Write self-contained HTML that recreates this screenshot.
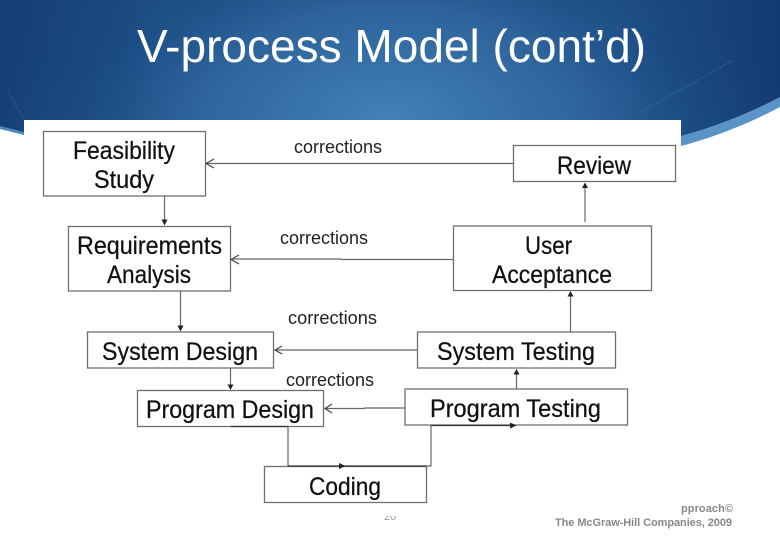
<!DOCTYPE html>
<html lang="en">
<head>
<meta charset="utf-8">
<title>V-process Model (cont'd)</title>
<style>
html,body{margin:0;padding:0;background:#fff}
svg{display:block}
.b{fill:#fff;stroke:#6f6f6f;stroke-width:1.3}
.l{stroke:#666;stroke-width:1.2;fill:none}
.d{stroke:#333;stroke-width:1.2;fill:none}
.o{stroke:#444;stroke-width:1.2;fill:none}
.t{font-family:"Liberation Sans",sans-serif;font-size:25px;fill:#111;stroke:#111;stroke-width:.25}
.c{font-family:"Liberation Sans",sans-serif;font-size:18px;fill:#222}
.f{font-family:"Liberation Sans",sans-serif;font-size:11px;font-weight:bold;fill:#888}
</style>
</head>
<body>
<svg width="780" height="540" viewBox="0 0 780 540" xmlns="http://www.w3.org/2000/svg">
<defs>
<linearGradient id="v" x1="0" y1="0" x2="0" y2="1">
<stop offset="0" stop-color="#1d4c84"/>
<stop offset="0.45" stop-color="#1e4f88"/>
<stop offset="1" stop-color="#24598f"/>
</linearGradient>
<radialGradient id="g" gradientUnits="userSpaceOnUse" cx="390" cy="115" r="340" gradientTransform="translate(0 50) scale(1 .6)">
<stop offset="0" stop-color="#4584ba" stop-opacity=".95"/>
<stop offset="0.55" stop-color="#3570a6" stop-opacity=".65"/>
<stop offset="1" stop-color="#1a4a82" stop-opacity="0"/>
</radialGradient>
<linearGradient id="e" x1="0" y1="0" x2="1" y2="0">
<stop offset="0" stop-color="#123a72" stop-opacity=".8"/>
<stop offset="0.2" stop-color="#123a72" stop-opacity="0"/>
<stop offset="0.8" stop-color="#123a72" stop-opacity="0"/>
<stop offset="1" stop-color="#103670" stop-opacity=".85"/>
</linearGradient>
<clipPath id="pg"><rect x="380" y="516" width="20" height="4"/></clipPath>
</defs>

<path d="M0 0H780V97C750 113 715 127 681 136V120H24V134L0 128Z" fill="url(#v)"/>
<path d="M0 0H780V97C750 113 715 127 681 136V120H24V134L0 128Z" fill="url(#g)"/>
<path d="M0 0H780V97C750 113 715 127 681 136V120H24V134L0 128Z" fill="url(#e)"/>
<path d="M681 136C715 127 750 113 780 97V107C750 123 715 137 681 146Z" fill="#5a93c6"/>
<path d="M0 126L24 132V135L0 129Z" fill="#4f8abf"/>
<path d="M8 90Q16 108 24 118" fill="none" stroke="#3c70a6" stroke-width=".7" opacity=".6"/>
<path d="M640 112Q690 85 733 60" fill="none" stroke="#3f78ae" stroke-width=".7" opacity=".6"/>

<rect x="24" y="120" width="657" height="400" fill="#fff"/>

<text x="137" y="62" font-family="'Liberation Sans',sans-serif" font-size="46" fill="#fff" textLength="509" lengthAdjust="spacingAndGlyphs">V-process Model (cont’d)</text>

<rect class="b" x="43.5" y="131.5" width="162" height="64.5"/>
<rect class="b" x="513.5" y="145.5" width="162" height="36"/>
<rect class="b" x="68.5" y="226.5" width="162" height="64.5"/>
<rect class="b" x="453.5" y="226" width="198" height="64.5"/>
<rect class="b" x="87.5" y="332" width="186" height="36"/>
<rect class="b" x="417.5" y="332" width="198" height="36"/>
<rect class="b" x="137.5" y="390.5" width="186" height="36"/>
<rect class="b" x="405" y="389" width="222.5" height="36"/>
<rect class="b" x="264.5" y="466.5" width="162" height="36"/>

<path class="l" d="M164.5 196V221"/><path d="M161.500 219.500H167.500L164.500 225.500Z" fill="#222"/>
<path class="l" d="M180.5 291V327"/><path d="M177.500 325.500H183.500L180.500 331.500Z" fill="#222"/>
<path class="l" d="M230.5 368V386"/><path d="M227.500 384.500H233.500L230.500 390Z" fill="#222"/>

<path class="l" d="M513 163.5H207"/><path class="o" d="M214 159L206 163.5L214 168"/>
<path class="l" d="M453 259.5H342L340 259H232"/><path class="o" d="M239 255L231 259.5L239 264"/>
<path class="l" d="M417 350H275"/><path class="o" d="M282 346L275 350L282 354"/>
<path class="l" d="M405 408H365L364 408.5H325"/><path class="o" d="M332 404L325 408.5L332 413"/>

<path class="l" d="M585 222V186"/><path d="M582 188H588L585 182.500Z" fill="#222"/>
<path class="l" d="M570.500 332V295"/><path d="M567.500 296.500H573.500L570.500 291Z" fill="#222"/>
<path class="l" d="M516.500 389V373"/><path d="M513.500 374.500H519.500L516.500 369Z" fill="#222"/>

<path class="d" d="M231 426.500H288"/>
<path class="l" stroke-width="1.400" d="M288 426V466"/>
<path class="d" d="M288 466H426"/><path d="M339 463L345.500 466L339 469Z" fill="#222"/>
<path class="l" d="M426 466H431V425"/>
<path class="d" d="M431 425.500H512"/><path d="M510 422.500L516.500 425.500L510 428.500Z" fill="#222"/>

<g class="t">
<text x="73" y="159" textLength="102" lengthAdjust="spacingAndGlyphs">Feasibility</text>
<text x="94" y="188" textLength="60" lengthAdjust="spacingAndGlyphs">Study</text>
<text x="77" y="254" textLength="145" lengthAdjust="spacingAndGlyphs">Requirements</text>
<text x="107" y="283" textLength="84" lengthAdjust="spacingAndGlyphs">Analysis</text>
<text x="557" y="174" textLength="74" lengthAdjust="spacingAndGlyphs">Review</text>
<text x="525" y="254" textLength="47" lengthAdjust="spacingAndGlyphs">User</text>
<text x="492" y="283" textLength="120" lengthAdjust="spacingAndGlyphs">Acceptance</text>
<text x="102" y="360" textLength="156" lengthAdjust="spacingAndGlyphs">System Design</text>
<text x="437" y="360" textLength="158" lengthAdjust="spacingAndGlyphs">System Testing</text>
<text x="146" y="418" textLength="168" lengthAdjust="spacingAndGlyphs">Program Design</text>
<text x="430" y="417" textLength="171" lengthAdjust="spacingAndGlyphs">Program Testing</text>
<text x="309" y="495" textLength="72" lengthAdjust="spacingAndGlyphs">Coding</text>
</g>

<g class="c">
<text x="294" y="153" textLength="88" lengthAdjust="spacingAndGlyphs">corrections</text>
<text x="280" y="244" textLength="88" lengthAdjust="spacingAndGlyphs">corrections</text>
<text x="288" y="324" textLength="89" lengthAdjust="spacingAndGlyphs">corrections</text>
<text x="286" y="386" textLength="88" lengthAdjust="spacingAndGlyphs">corrections</text>
</g>

<g class="f">
<text x="681" y="512" textLength="52" lengthAdjust="spacing">pproach©</text>
<text x="555" y="526" textLength="177" lengthAdjust="spacing">The McGraw-Hill Companies, 2009</text>
</g>
<text clip-path="url(#pg)" x="384" y="520" font-family="'Liberation Sans',sans-serif" font-size="11" fill="#999">20</text>
</svg>
</body>
</html>
